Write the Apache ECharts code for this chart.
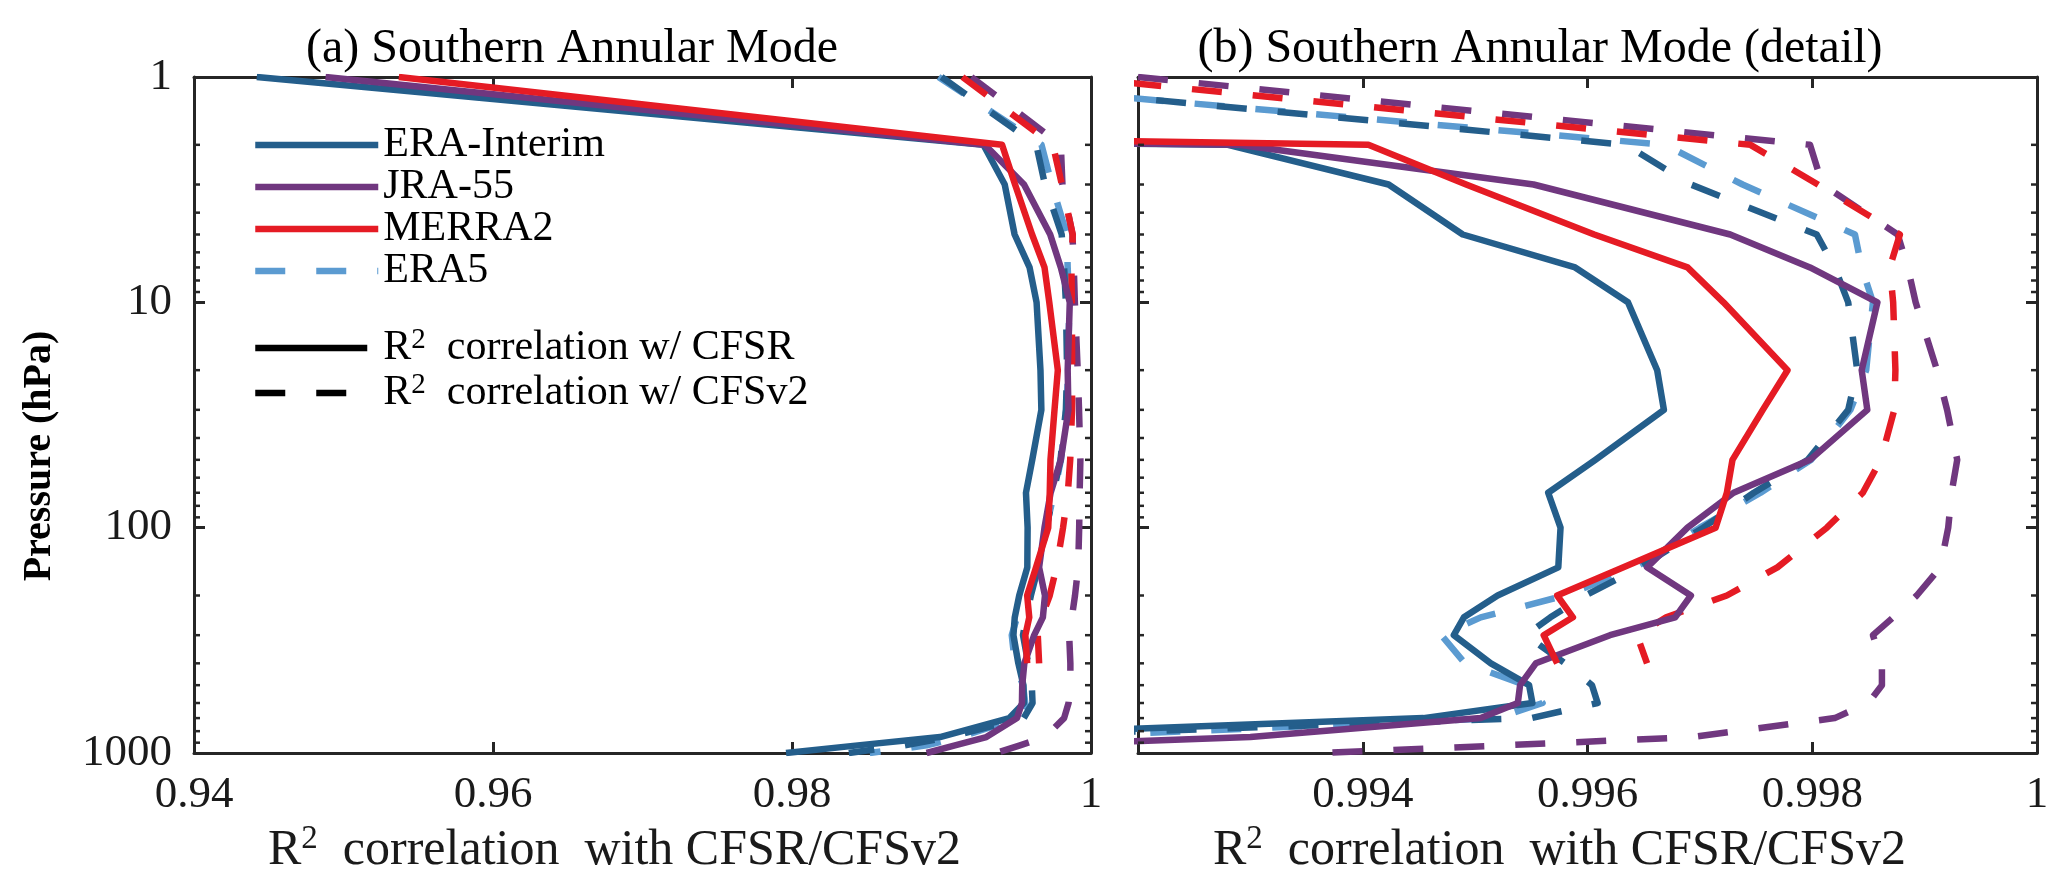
<!DOCTYPE html>
<html><head><meta charset="utf-8">
<script src="https://cdn.jsdelivr.net/npm/echarts@6/dist/echarts.min.js"></script>
<style>html,body{margin:0;padding:0;background:#fff}#c{width:2067px;height:893px}</style>
</head><body><div id="c"></div>
<script>
// ---------------- data ----------------
const pressure = [1,2,3,5,7,10,20,30,50,70,100,150,200,250,300,400,500,600,700,850,925,1000];
// R^2 with CFSR (solid)
const eraiCFSR   = [0.9442,0.9928,0.99423,0.99489,0.99589,0.99636,0.99662,0.99668,0.99607,0.99565,0.99576,0.99574,0.99520,0.99490,0.99481,0.99514,0.99548,0.99551,0.99454,0.9899,0.9844,0.9796];
const jra55CFSR  = [0.9488,0.9929,0.99552,0.99727,0.99798,0.99858,0.99844,0.99849,0.99798,0.99730,0.99689,0.99653,0.99692,0.99678,0.99620,0.99554,0.99540,0.99538,0.99505,0.9930,0.9909,0.9890];
const merra2CFSR = [0.9537,0.99405,0.99492,0.99606,0.99689,0.99721,0.99778,0.99756,0.99729,0.99724,0.99714,0.99632,0.99573,0.99587,0.99561,0.99573];
// R^2 with CFSv2 (dashed)
const eraiCFSv2   = [0.9900,0.99634,0.99692,0.99804,0.99820,0.99832,0.99840,0.99832,0.99796,0.99748,0.99703,0.99647,0.99598,0.99567,0.99545,0.99580,0.99604,0.99609,0.99550,0.9905,0.9875,0.9838];
const jra55CFSv2  = [0.9920,0.99798,0.99809,0.99876,0.99885,0.99892,0.99911,0.99920,0.99929,0.99924,0.99921,0.99914,0.99893,0.99872,0.99854,0.99862,0.99862,0.99850,0.99820,0.99693,0.99525,0.99365];
const merra2CFSv2 = [0.9914,0.99745,0.99805,0.99878,0.99869,0.99872,0.99874,0.99873,0.99861,0.99845,0.99813,0.99769,0.99724,0.99670,0.99644,0.99653];
const era5CFSv2   = [0.9898,0.99669,0.99738,0.99838,0.99844,0.99854,0.99848,0.99834,0.99799,0.99754,0.99700,0.99643,0.99580,0.99505,0.99470,0.99491,0.99545,0.99560,0.99520,0.9912,0.9890,0.9852];
// axes ticks
const xTicksA = [0.94,0.96,0.98,1];
const xTicksB = [0.992,0.994,0.996,0.998,1];
const yTicks  = [1,10,100,1000];
const minorPressure = [2,3,4,5,6,7,8,9,20,30,40,50,60,70,80,90,200,300,400,500,600,700,800,900];

// ---------------- style ----------------
const FONT = '"Liberation Serif","Times New Roman",serif';
const AX = '#262626';
const C_ERAI = '#245e8b', C_JRA = '#70377f', C_MERRA = '#e51b24', C_ERA5 = '#5b9bd1';
const DASH = [30, 31];
const LW = 6.5;

const chart = echarts.init(document.getElementById('c'), null, {renderer:'canvas'});

function xAxisPair(ticks, grid, showMin) {
  const min = ticks[0], max = ticks[ticks.length-1], interval = +(ticks[1]-ticks[0]).toFixed(6);
  const common = {type:'value', gridIndex:grid, min, max, interval, splitLine:{show:false},
    axisLine:{show:true, onZero:false, lineStyle:{color:AX, width:3}},
    axisTick:{show:true, inside:true, length:11, lineStyle:{color:AX, width:3}}};
  return [
    Object.assign({}, common, {position:'bottom',
      axisLabel:{show:true, showMinLabel:showMin, margin:20, fontFamily:FONT, fontSize:45, color:'#1a1a1a',
        formatter: v => String(+(+v).toFixed(4))},
      name:'R{sup|2}  correlation  with CFSR/CFSv2', nameLocation:'middle', nameGap:63,
      nameTextStyle:{fontFamily:FONT, fontSize:50, color:'#1a1a1a', lineHeight:56, padding:[0,56,0,0],
        rich:{sup:{fontFamily:FONT, fontSize:33, lineHeight:33, verticalAlign:'top', color:'#1a1a1a'}}}}),
    Object.assign({}, common, {position:'top', axisLabel:{show:false}})
  ];
}
function yAxisPair(grid, showLabels) {
  const common = {type:'log', logBase:10, gridIndex:grid, min:yTicks[0], max:yTicks[yTicks.length-1], inverse:true,
    splitLine:{show:false}, minorTick:{show:false},
    axisLine:{show:true, onZero:false, lineStyle:{color:AX, width:3}},
    axisTick:{show:true, inside:true, length:11, lineStyle:{color:AX, width:3}}};
  return [
    Object.assign({}, common, {position:'left',
      axisLabel:{show:showLabels, margin:22, fontFamily:FONT, fontSize:45, color:'#1a1a1a',
        formatter: v => String(Math.round(v))}}),
    Object.assign({}, common, {position:'right', axisLabel:{show:false}})
  ];
}

function line(name, vals, color, dashed, xi, yi, z) {
  return {type:'line', name, xAxisIndex:xi, yAxisIndex:yi, data: vals.map((v,i)=>[v, pressure[i]]),
    symbol:'none', showSymbol:false, color, z, clip:true, animation:false,
    lineStyle:{color, width:LW, type: dashed ? DASH : 'solid', join:'round'}};
}
function minorTicks(xi, yi, ticks) {
  const xMin = ticks[0], xMax = ticks[ticks.length-1];
  return {type:'custom', name:'minor', xAxisIndex:xi, yAxisIndex:yi, silent:true, clip:false, z:20, animation:false,
    data: minorPressure.map(p => [xMin, p]),
    renderItem: (params, api) => {
      const p = api.value(1);
      const l = api.coord([xMin, p]), r = api.coord([xMax, p]);
      const st = {stroke:AX, lineWidth:2.5};
      return {type:'group', children:[
        {type:'line', shape:{x1:l[0], y1:l[1], x2:l[0]+6, y2:l[1]}, style:st},
        {type:'line', shape:{x1:r[0]-6, y1:r[1], x2:r[0], y2:r[1]}, style:st}
      ]};
    }};
}

const series = [];
[[0,0],[2,2]].forEach(([xi, yi]) => {
  series.push(line('ERA5', era5CFSv2, C_ERA5, true, xi, yi, 2));
  series.push(line('ERA-Interim CFSv2', eraiCFSv2, C_ERAI, true, xi, yi, 3));
  series.push(line('JRA-55 CFSv2', jra55CFSv2, C_JRA, true, xi, yi, 4));
  series.push(line('MERRA2 CFSv2', merra2CFSv2, C_MERRA, true, xi, yi, 5));
  series.push(line('ERA-Interim', eraiCFSR, C_ERAI, false, xi, yi, 6));
  series.push(line('JRA-55', jra55CFSR, C_JRA, false, xi, yi, 7));
  series.push(line('MERRA2', merra2CFSR, C_MERRA, false, xi, yi, 8));
});
series.push(minorTicks(0, 0, xTicksA));
series.push(minorTicks(2, 2, xTicksB));
// legend-only black samples
series.push({type:'line', name:'cfsr', xAxisIndex:0, yAxisIndex:0, data:[], symbol:'none', color:'#000', lineStyle:{color:'#000', width:LW, type:'solid'}});
series.push({type:'line', name:'cfsv2', xAxisIndex:0, yAxisIndex:0, data:[], symbol:'none', color:'#000', lineStyle:{color:'#000', width:LW, type:DASH}});

const legendCommon = {orient:'vertical', left:252, padding:0, itemHeight:14, selectedMode:false,
  lineStyle:{width:LW}, itemStyle:{opacity:0, borderWidth:0}};

const option = {
  backgroundColor:'#fff',
  animation:false,
  grid:[
    {left:194, top:77, width:897, height:676, containLabel:false},
    {left:1138, top:77, width:899, height:676, containLabel:false}
  ],
  title:[
    {text:'(a) Southern Annular Mode', left:567, top:20, textAlign:'center',
      textStyle:{fontFamily:FONT, fontSize:48, fontWeight:'normal', color:'#000'}},
    {text:'(b) Southern Annular Mode (detail)', left:1535, top:20, textAlign:'center',
      textStyle:{fontFamily:FONT, fontSize:48, fontWeight:'normal', color:'#000'}}
  ],
  legend:[
    Object.assign({}, legendCommon, {data:['ERA-Interim','JRA-55','MERRA2','ERA5'], top:124,
      itemWidth:123, itemGap:0,
      textStyle:{fontFamily:FONT, fontSize:42, color:'#000', lineHeight:42}}),
    Object.assign({}, legendCommon, {data:['cfsr','cfsv2'], top:326, itemWidth:112, itemGap:1,
      formatter: n => n === 'cfsr' ? 'R{sup|2}  correlation w/ CFSR' : 'R{sup|2}  correlation w/ CFSv2',
      textStyle:{fontFamily:FONT, fontSize:42, color:'#000', lineHeight:44, padding:[0,0,0,11],
        rich:{sup:{fontFamily:FONT, fontSize:29, lineHeight:29, verticalAlign:'top', color:'#000'}}}})
  ],
  xAxis: [...xAxisPair(xTicksA, 0, true), ...xAxisPair(xTicksB, 1, false)],
  yAxis: [...yAxisPair(0, true), ...yAxisPair(1, false)],
  graphic:[
    {type:'text', x:40, y:456, rotation:Math.PI/2,
      style:{text:'Pressure (hPa)', fontFamily:FONT, fontSize:40, fontWeight:'bold', fill:'#000',
        textAlign:'center', textVerticalAlign:'middle'}}
  ],
  series
};
chart.setOption(option);
</script>
</body></html>
